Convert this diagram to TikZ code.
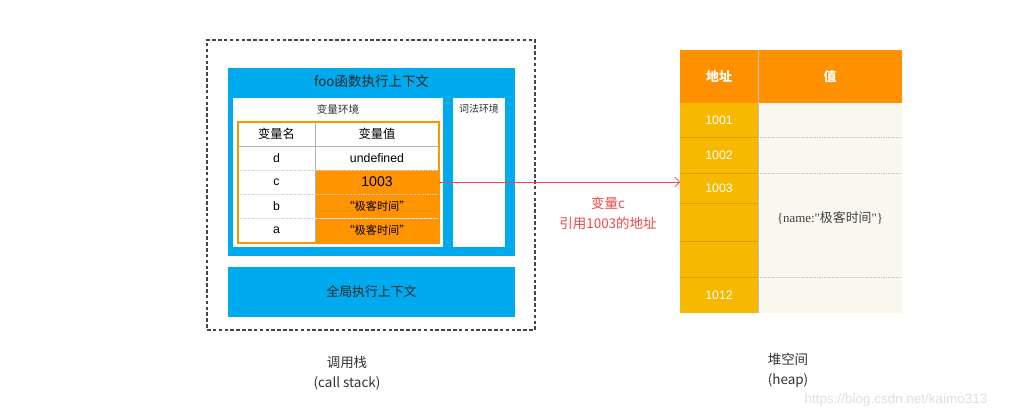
\documentclass[tikz,border=0pt]{standalone}
\usepackage{fontspec}
\setmainfont{Liberation Sans}
\newfontfamily\cjk{Noto Sans CJK SC}
\newfontfamily\serifface{Liberation Serif}
\definecolor{ctxblue}{RGB}{0,170,239}
\definecolor{tableorange}{RGB}{255,147,0}
\definecolor{heaporange}{RGB}{255,145,0}
\definecolor{addramber}{RGB}{247,184,0}
\definecolor{addrline}{RGB}{214,160,20}
\definecolor{heapcream}{RGB}{250,248,238}
\definecolor{framegray}{RGB}{70,70,70}
\definecolor{refred}{RGB}{240,70,70}
\usetikzlibrary{arrows.meta,positioning}

\begin{document}
\begin{tikzpicture}[x=0.03cm,y=-0.03cm,
  cell/.style 2 args={minimum width=#1*0.03cm,minimum height=#2*0.03cm,inner sep=0pt,outer sep=0pt},
  title/.style={font=\cjk\fontsize{11.5}{13}\selectfont,text=black!85},
  subtitle/.style={font=\cjk\fontsize{9}{10}\selectfont,text=black!80},
  heaptext/.style={font=\fontsize{10.5}{12}\selectfont,text=white}]
  \useasboundingbox (0,0) rectangle (1012,419);
  % Call stack
  \node[draw=framegray,densely dashed,line width=1.1pt,cell={328}{290}] (stack) at (371,185) {};
  \node[fill=ctxblue,cell={287}{188}] (fooctx) at (371.5,162) {};
  \node[title] (footitle) at (371.5,81) {foo函数执行上下文};
  \node[fill=white,cell={210}{149}] (varenv) at (338,172.5) {};
  \node[subtitle] (varenvtitle) at (338,109) {变量环境};
  \node[fill=white,cell={52}{149}] (lexenv) at (479,172.5) {};
  \node[subtitle,font=\cjk\fontsize{8.5}{10}\selectfont] (lexenvtitle) at (479,109) {词法环境};
  \node[fill=ctxblue,cell={287}{50}] (globalctx) at (371.5,292) {};
  \node[title,font=\cjk\fontsize{11}{13}\selectfont] (globaltitle) at (371.5,292) {全局执行上下文};
  % Variable table
  \node[cell={77}{24},font=\cjk\fontsize{10.5}{12}\selectfont] (namehead) at (276.5,134) {变量名};
  \node[cell={124}{24},font=\cjk\fontsize{10.5}{12}\selectfont] (valhead) at (377,134) {变量值};
  \node[cell={77}{24},font=\fontsize{10.5}{12}\selectfont] (var-d) at (276.5,158) {d};
  \node[cell={124}{24},font=\fontsize{10.5}{12}\selectfont] (val-d) at (377,158) {undefined};
  \node[cell={77}{24},font=\fontsize{10.5}{12}\selectfont] (var-c) at (276.5,182) {c};
  \node[cell={124}{24},fill=tableorange,font=\fontsize{12}{13}\selectfont] (val-c) at (377,182) {1003};
  \foreach \v/\y in {b/206,a/230.5} {
    \node[cell={77}{24},font=\fontsize{10.5}{12}\selectfont] (var-\v) at (276.5,\y) {\v};
    \node[cell={124}{24},fill=tableorange,font=\cjk\fontsize{9.5}{11}\selectfont] (val-\v) at (377,\y) {“极客时间”};
  }
  \draw[gray!60] (namehead.north east) -- (var-a.south east);
  \draw[gray!60] (namehead.south west) -- (valhead.south east);
  \foreach \v in {d,c,b} \draw[gray!35,densely dotted] (var-\v.south west) -- (val-\v.south east);
  \node[draw=tableorange,line width=1.1pt,cell={201}{121}] (vartable) at (338.5,182.5) {};
  % Heap
  \node[fill=heaporange,cell={78}{53},heaptext,font=\cjk\bfseries\fontsize{11}{12}\selectfont] (addrhead) at (719,76.5) {地址};
  \node[fill=heaporange,cell={144}{53},heaptext,font=\cjk\bfseries\fontsize{11}{12}\selectfont] (valuehead) at (830,76.5) {值};
  \foreach \lab/\y/\h [count=\i] in {1001/120/34,1002/155/36,1003/188/30,/222/38,/259/36,1012/295/36}
    \node[fill=addramber,cell={78}{\h},heaptext] (addr\i) at (719,\y) {\lab};
  \foreach \i in {1,...,5} \draw[addrline] (addr\i.south west) -- (addr\i.south east);
  \foreach \y/\h [count=\i] in {120/34,155/36,225/104,295/36}
    \node[fill=heapcream,cell={144}{\h}] (val\i) at (830,\y) {};
  \foreach \i in {1,2,3} \draw[gray!45,densely dotted] (val\i.south west) -- (val\i.south east);
  \draw[gray!50] (addrhead.north east) -- (addr6.south east);
  \node[font=\serifface\fontsize{11}{12}\selectfont,text=black!75] (heapobj) at (830,218) {\{name:"{\cjk 极客时间}"\}};
  % Reference
  \draw[-{Straight Barb[length=4pt,width=8pt]},refred,line width=0.6pt] (val-c.east) -- (val-c.east -| addr3.west);
  \node[font=\cjk\fontsize{11.5}{17}\selectfont,text=refred,align=center] (reflabel) at (608,213) {变量c\\引用1003的地址};
  % Captions
  \node[font=\cjk\fontsize{11.5}{17}\selectfont,text=black!80,align=center] (stacklabel) at (347,373) {调用栈\\(call stack)};
  \node[font=\cjk\fontsize{11.5}{17}\selectfont,text=black!80,align=center] (heaplabel) at (788,370) {堆空间\\(heap)};
  \node[font=\fontsize{11.5}{13}\selectfont,text=gray!25] (watermark) at (896,400) {https://blog.csdn.net/kaimo313};
\end{tikzpicture}
\end{document}
